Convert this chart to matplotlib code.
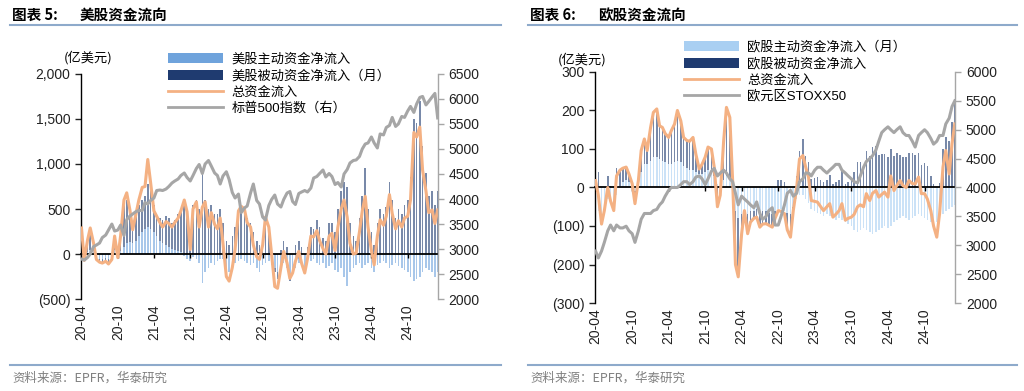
import matplotlib
matplotlib.use("Agg")
import matplotlib.pyplot as plt
import numpy as np
import pandas as pd
from matplotlib.lines import Line2D
from matplotlib.patches import Patch
from matplotlib.ticker import FuncFormatter, MultipleLocator

plt.rcParams["font.family"] = ["Liberation Sans", "Noto Sans CJK SC", "DejaVu Sans"]

# semi-monthly observations, 2020-04-01 .. 2025-03-01
dates = pd.date_range("2020-04-01", periods=119, freq="SMS")
tick_dates = pd.date_range("2020-04-01", "2024-10-01", freq="6MS")
tick_labels = [d.strftime("%y-%m") for d in tick_dates]

# --- US (亿美元) ---
us_active = [
    50, -30, 20, 40, 30, -40, -50, -60, -40, -60, -30, 50,
    -20, 30, 80, 120, 130, 120, 150, 200, 250, 280, 300, 280,
    250, 200, 150, 120, 100, 80, 60, 50, 30, 20, -20, -50,
    -80, -30, -60, -100, -320, -200, -150, -100, -120, -80, -60, -60,
    -150, -200, -150, -100, -80, -60, -80, -100, -120, -100, -150, -200,
    -120, -100, -80, -120, -150, -200, -180, -100, -150, -250, -200, -150,
    -100, -120, -150, -100, -80, -60, -100, -120, -100, -150, -130, -100,
    -180, -200, -150, -250, -350, -200, -150, -120, -100, -150, -120, -100,
    -150, -200, -120, -100, -80, -100, -150, -120, -100, -130, -150, -180,
    -200, -250, -300, -280, -250, -200, -150, -180, -200, -250, -200,
]
us_passive = [
    240, -40, 130, 250, 90, -20, -40, -40, -40, -50, -30, 150,
    -20, 270, 470, 480, 320, 230, 300, 350, 350, 370, 480, 420,
    300, 250, 250, 260, 320, 320, 290, 330, 420, 480, 550, 500,
    250, 550, 600, 500, 900, 600, 500, 550, 450, 450, 500, 350,
    150, 100, 200, 300, 450, 500, 480, 400, 350, 250, 150, 100,
    200, 400, 300, 100, -50, -80, 50, 150, 80, -50, 0, 100,
    150, 80, -30, 80, 300, 280, 380, 300, 180, 150, 350, 350,
    250, 500, 700, 800, 750, 350, 200, 150, 400, 650, 950, 500,
    250, 100, 350, 500, 450, 520, 800, 600, 400, 500, 450, 550,
    600, 850, 1500, 1450, 1700, 1200, 900, 650, 700, 550, 700,
]
us_total = [
    290, -70, 150, 290, 120, -60, -90, -100, -80, -110, -60, 200,
    -40, 200, 600, 680, 490, 270, 450, 600, 740, 750, 1050, 800,
    480, 420, 350, 300, 360, 340, 300, 350, 400, 480, 600, 470,
    50, 500, 580, 300, 520, 580, 300, 460, 330, 280, 400, 120,
    -250, -300, -150, 50, 480, 530, 500, 350, 300, 100, -30, -60,
    100, 410, 300, 0, -360, -380, -150, 30, -100, -270, -210, -80,
    30, -100, -210, -50, 200, 190, 260, 150, 60, 0, 200, 230,
    40, 300, 500, 600, 410, 120, 0, 10, 250, 480, 640, 300,
    40, -120, 200, 380, 320, 420, 660, 450, 280, 370, 300, 400,
    420, 600, 1350, 1300, 1410, 930, 700, 460, 490, 340, 490,
]
spx = [
    2800, 2780, 2830, 2900, 3050, 3080, 3120, 3230, 3280, 3380, 3500, 3360,
    3380, 3480, 3270, 3590, 3660, 3700, 3750, 3770, 3770, 3930, 3900, 3970,
    4020, 4170, 4180, 4170, 4200, 4250, 4320, 4360, 4400, 4470, 4520, 4430,
    4360, 4470, 4610, 4690, 4510, 4700, 4770, 4660, 4520, 4470, 4300, 4460,
    4545, 4390, 4130, 4020, 4100, 3730, 3820, 3860, 4120, 4300, 3970, 3900,
    3640, 3580, 3870, 3990, 4080, 3900, 3840, 3990, 4120, 4150, 3950, 3890,
    4110, 4140, 4170, 4140, 4220, 4420, 4450, 4510, 4580, 4440, 4510, 4450,
    4290, 4330, 4240, 4500, 4590, 4720, 4770, 4780, 4850, 5000, 5100, 5120,
    5240, 5120, 5020, 5300, 5280, 5430, 5470, 5630, 5450, 5500, 5650, 5630,
    5760, 5850, 5730, 5900, 6030, 6050, 5880, 5950, 6040, 6110, 5620,
]

# --- Europe (亿美元) ---
eu_active = [
    -50, -60, -70, -60, -30, -40, -50, -20, 5, 15, 20, 15,
    10, -10, 10, 40, 60, 60, 70, 80, 80, 75, 70, 65,
    60, 60, 65, 70, 65, 55, 50, 45, 45, 40, 35, 35,
    40, 45, 40, 30, 10, 5, 20, 30, 20, -10, -60, -80,
    -70, -60, -70, -60, -60, -55, -65, -60, -60, -65, -70, -60,
    -55, -55, -60, -65, -70, -50, -30, -20, -20, -30, -40, -55,
    -60, -65, -70, -75, -70, -75, -80, -85, -80, -85, -90, -95,
    -100, -110, -115, -110, -105, -110, -115, -120, -115, -110, -105, -100,
    -105, -100, -90, -85, -80, -75, -80, -85, -80, -75, -70, -75,
    -80, -85, -90, -95, -90, -80, -70, -60, -55, -50, -45,
]
eu_passive = [
    40, 40, -25, 0, 30, 5, -10, 50, 40, 35, 33, 20,
    0, -32, 8, 56, 66, 36, 86, 115, 124, 85, 86, 75,
    70, 88, 100, 130, 108, 75, 72, 75, 85, 47, 13, 25,
    39, 60, 60, 23, -30, 0, 100, 178, 162, 28, -140, -152,
    -50, 0, -50, -30, -20, -22, -38, -35, -34, -33, -33, -20,
    20, 20, 15, -45, -59, -10, 30, 94, 125, 83, 67, 21,
    24, 27, 20, 15, 20, 33, 10, 15, 20, 43, 10, 15,
    23, 40, 65, 65, 55, 94, 81, 105, 107, 85, 87, 88,
    80, 100, 82, 90, 85, 80, 80, 90, 90, 84, 90, 59,
    64, 55, 30, 10, 0, 12, 100, 130, 120, 170, 230,
]
eu_total = [
    18, -20, -95, -60, 0, -35, -60, 30, 45, 50, 53, 35,
    10, -42, 18, 96, 126, 96, 156, 195, 204, 160, 156, 140,
    130, 148, 165, 200, 173, 130, 122, 120, 130, 87, 48, 60,
    79, 105, 100, 53, -50, -20, 120, 208, 182, 18, -200, -232,
    -120, -60, -120, -90, -80, -77, -103, -95, -94, -98, -103, -80,
    -60, -62, -68, -110, -129, -60, 0, 74, 83, 53, 27, -34,
    -36, -38, -50, -60, -50, -42, -77, -70, -60, -42, -85, -80,
    -77, -70, -50, -45, -50, -16, -34, -15, -8, -25, -18, -12,
    -25, 30, -8, 5, 18, 5, 0, 18, 10, 9, 27, -16,
    -16, -30, -60, -100, -129, -68, 53, 96, 35, 113, 165,
]
sx5e = [
    2900, 2780, 2900, 3050, 3250, 3350, 3250, 3350, 3300, 3300, 3330, 3250,
    3200, 3050, 3250, 3450, 3550, 3550, 3550, 3600, 3620, 3700, 3750, 3850,
    3950, 4000, 4000, 4000, 4050, 4100, 4100, 4050, 4100, 4180, 4200, 4150,
    4050, 4150, 4280, 4330, 4200, 4250, 4300, 4250, 4150, 4100, 3900, 3700,
    3850, 3800, 3750, 3700, 3650, 3750, 3550, 3450, 3500, 3600, 3650, 3350,
    3350, 3500, 3700, 3900, 3950, 3850, 3900, 4100, 4150, 4250, 4250, 4200,
    4300, 4350, 4350, 4300, 4250, 4300, 4350, 4400, 4400, 4300, 4250, 4200,
    4150, 4100, 4080, 4200, 4350, 4450, 4500, 4550, 4650, 4800, 4950, 5000,
    5050, 5000, 4950, 5000, 5050, 4950, 4900, 4900, 4800, 4700, 4900, 4950,
    5000, 4950, 4850, 4750, 4800, 4900, 4900, 5100, 5200, 5400, 5500,
]

us_labels = ["美股主动资金净流入", "美股被动资金净流入（月）", "总资金流入", "标普500指数（右）"]
eu_labels = ["欧股主动资金净流入（月）", "欧股被动资金净流入", "总资金流入", "欧元区STOXX50"]

ORANGE = "#f4b183"
GRAY = "#a6a6a6"
NAVY = "#1f3b70"
RULE = "#8eaacb"
CJK = ["Noto Sans CJK SC", "DejaVu Sans"]


def paren_fmt(v, _):
    if v < 0:
        return f"({abs(v):,.0f})"
    return f"{v:,.0f}"


def draw_panel(fig, rect, active, passive, total, index, c_active,
               ylim, ystep, y2lim, y2step):
    ax = fig.add_axes(rect)
    active = np.asarray(active, float)
    passive = np.asarray(passive, float)

    # stacked columns: passive sits on active when both share a sign
    ax.bar(dates, active, width=8, color=c_active, linewidth=0,
           alpha=0.6, zorder=1)
    base = np.where(np.sign(passive) == np.sign(active), active, 0)
    ax.bar(dates, passive, bottom=base, width=8, color=NAVY, linewidth=0,
           alpha=0.6, zorder=1)
    ax.plot(dates, total, color=ORANGE, lw=2.2, zorder=3)

    ax.set_xlim(pd.Timestamp("2020-03-29"), pd.Timestamp("2025-03-04"))
    ax.set_ylim(*ylim)
    ax.yaxis.set_major_locator(MultipleLocator(ystep))
    ax.yaxis.set_major_formatter(FuncFormatter(paren_fmt))

    for s in ("top", "right"):
        ax.spines[s].set_visible(False)
    ax.spines["left"].set_linewidth(1.0)
    ax.spines["bottom"].set_position(("data", 0))
    ax.spines["bottom"].set_linewidth(1.3)
    ax.spines["bottom"].set_zorder(2.5)

    ax.set_xticks(tick_dates)
    ax.tick_params(axis="x", direction="out", length=3, width=1,
                   labelbottom=False)
    ax.tick_params(axis="y", direction="out", length=4, width=1,
                   labelsize=10, colors="#222222")
    for d, lab in zip(tick_dates, tick_labels):
        ax.text(d, -0.022, lab, transform=ax.get_xaxis_transform(),
                rotation=90, ha="center", va="top", fontsize=10,
                color="#222222")

    ax2 = ax.twinx()
    ax2.plot(dates, index, color=GRAY, lw=2.2, zorder=2)
    ax2.set_ylim(*y2lim)
    ax2.yaxis.set_major_locator(MultipleLocator(y2step))
    for s in ("top", "left", "bottom"):
        ax2.spines[s].set_visible(False)
    ax2.spines["right"].set_color(GRAY)
    ax2.spines["right"].set_linewidth(1.0)
    ax2.tick_params(axis="y", direction="out", length=4, width=1,
                    color=GRAY, labelcolor="#222222", labelsize=10)
    return ax, ax2


def add_legend(fig, labels, c_active, anchor):
    handles = [
        Patch(facecolor=c_active, edgecolor="none"),
        Patch(facecolor=NAVY, edgecolor="none"),
        Line2D([], [], color=ORANGE, lw=2),
        Line2D([], [], color=GRAY, lw=2),
    ]
    fig.legend(handles, labels, loc="upper left", bbox_to_anchor=anchor,
               frameon=False, fontsize=9.5, handlelength=4.2,
               handleheight=0.8, labelspacing=0.28, handletextpad=0.6,
               borderpad=0, borderaxespad=0)


def add_frame(fig, x0, x1, num, title):
    fig.text(x0 + 0.002, 0.962, f"图表 {num}:", fontsize=10.5,
             fontweight="bold", va="center", family=CJK)
    fig.text(x0 + 0.068, 0.962, title, fontsize=10.5, fontweight="bold",
             va="center", family=CJK)
    fig.add_artist(Line2D([x0, x1], [0.937, 0.937], transform=fig.transFigure,
                          color=RULE, lw=1.5))
    fig.add_artist(Line2D([x0, x1], [0.067, 0.067], transform=fig.transFigure,
                          color=RULE, lw=1.5))
    fig.text(x0 + 0.002, 0.033, "资料来源：EPFR，华泰研究", fontsize=9,
             color="#808080", va="center", family=CJK)


fig = plt.figure(figsize=(10.24, 3.91), dpi=100)

draw_panel(fig, [0.079, 0.235, 0.349, 0.576], us_active, us_passive,
           us_total, spx, "#6fa3dc", (-500, 2000), 500, (2000, 6500), 500)
draw_panel(fig, [0.581, 0.225, 0.352, 0.591], eu_active, eu_passive,
           eu_total, sx5e, "#a9cff2", (-300, 300), 100, (2000, 6000), 500)

add_legend(fig, us_labels, "#6fa3dc", (0.164, 0.864))
add_legend(fig, eu_labels, "#a9cff2", (0.668, 0.895))

fig.text(0.086, 0.853, "(亿美元)", fontsize=9.5, ha="center", va="center",
         family=CJK)
fig.text(0.568, 0.848, "(亿美元)", fontsize=9.5, ha="center", va="center",
         family=CJK)

add_frame(fig, 0.010, 0.489, 5, "美股资金流向")
add_frame(fig, 0.516, 0.993, 6, "欧股资金流向")

fig.savefig("out.png", dpi=100)
